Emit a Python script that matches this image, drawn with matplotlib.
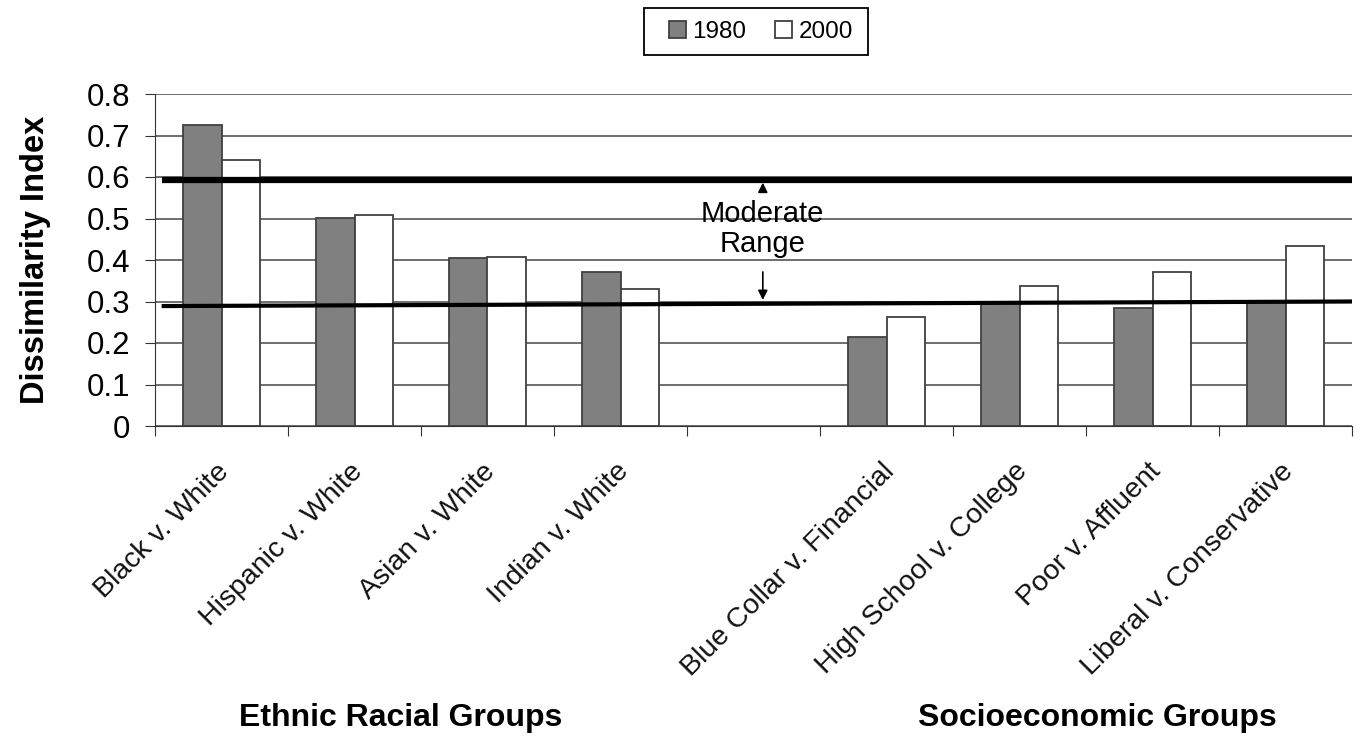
import numpy as np
import matplotlib
matplotlib.use("Agg")
import matplotlib.pyplot as plt
from matplotlib.patches import Rectangle

plt.rcParams['font.family'] = ['Liberation Sans', 'DejaVu Sans']

# data (empty slot between the two groups)
categories = ["Black v. White", "Hispanic v. White", "Asian v. White", "Indian v. White", "",
              "Blue Collar v. Financial", "High School v. College", "Poor v. Affluent",
              "Liberal v. Conservative"]
vals_1980 = [0.725, 0.502, 0.404, 0.370, np.nan, 0.215, 0.296, 0.285, 0.298]
vals_2000 = [0.640, 0.508, 0.408, 0.330, np.nan, 0.263, 0.338, 0.370, 0.434]
series_names = ["1980", "2000"]
yticks = [0, 0.1, 0.2, 0.3, 0.4, 0.5, 0.6, 0.7, 0.8]
ytick_labels = ["0", "0.1", "0.2", "0.3", "0.4", "0.5", "0.6", "0.7", "0.8"]
upper_line = [0.593, 0.593]   # moderate range top (left, right)
lower_line = [0.289, 0.300]   # moderate range bottom (left, right)
group_names = ["Ethnic Racial Groups", "Socioeconomic Groups"]

W, H = 1362, 741
fig = plt.figure(figsize=(W / 100, H / 100), dpi=100)
ax = fig.add_axes([155 / W, 1 - 426 / H, 1197 / W, 332 / H])

x = np.arange(len(categories))
w = 0.286
ax.bar(x - w/2, vals_1980, w, color='#808080', edgecolor='#404040', linewidth=1.3,
       label=series_names[0], zorder=2)
ax.bar(x + w/2, vals_2000, w, color='white', edgecolor='#404040', linewidth=1.3,
       label=series_names[1], zorder=2)

# moderate range lines
ax.plot([-0.45, len(categories) - 0.5], upper_line, color='black', lw=4.5, zorder=3,
        solid_capstyle='butt')
ax.plot([-0.45, len(categories) - 0.5], lower_line, color='black', lw=3, zorder=3,
        solid_capstyle='butt')

ax.set_xlim(-0.5, len(categories) - 0.5)
ax.set_ylim(0, 0.8)
ax.set_yticks(yticks)
ax.set_yticklabels(ytick_labels, fontsize=22.5)
ax.yaxis.grid(True, color='#555555', lw=1.2, zorder=0)
ax.set_axisbelow(True)
for s in ['top', 'right']:
    ax.spines[s].set_visible(False)
ax.spines['left'].set_color('#333333')
ax.spines['bottom'].set_color('#333333')
ax.tick_params(axis='y', length=7, direction='out', color='#333333', pad=11)

# ticks at slot boundaries, labels at centres
ax.set_xticks(np.arange(len(categories) + 1) - 0.5)
ax.set_xticklabels([])
ax.tick_params(axis='x', length=7, direction='out', color='#333333')
for xi, lab in zip(x, categories):
    ax.text(xi - 0.04, -0.078, lab, rotation=45, ha='right', va='top',
            rotation_mode='anchor', fontsize=20.5, color='#111111')

ax.set_ylabel("Dissimilarity Index", fontsize=23.5, fontweight='bold')
ax.yaxis.set_label_coords(-0.087, 0.5)

# annotation
mid = 4.07
ax.text(mid, 0.475, "Moderate\nRange", ha='center', va='center', fontsize=21,
        linespacing=1.1)
ax.annotate("", xy=(mid, upper_line[0]), xytext=(mid, 0.568),
            arrowprops=dict(arrowstyle='-|>', color='black', lw=1.2, mutation_scale=14))
ax.annotate("", xy=(mid, 0.297), xytext=(mid, 0.378),
            arrowprops=dict(arrowstyle='-|>', color='black', lw=1.2, mutation_scale=14))

fig.text(401 / W, 1 - 718 / H, group_names[0], ha='center', va='center',
         fontsize=23, fontweight='bold')
fig.text(1097 / W, 1 - 718 / H, group_names[1], ha='center', va='center',
         fontsize=23, fontweight='bold')

fig.legend(loc='center', bbox_to_anchor=(761 / W, 1 - 32 / H), ncol=2,
           fontsize=17.5, frameon=False,
           handlelength=0.7, handleheight=0.7, handletextpad=0.25,
           columnspacing=1.2, borderpad=0.5)
fig.patches.append(Rectangle((644 / W, 1 - 55 / H), 224 / W, 47 / H,
                             transform=fig.transFigure, fill=False,
                             edgecolor='black', lw=1.3))

fig.savefig("out.png", dpi=100)
